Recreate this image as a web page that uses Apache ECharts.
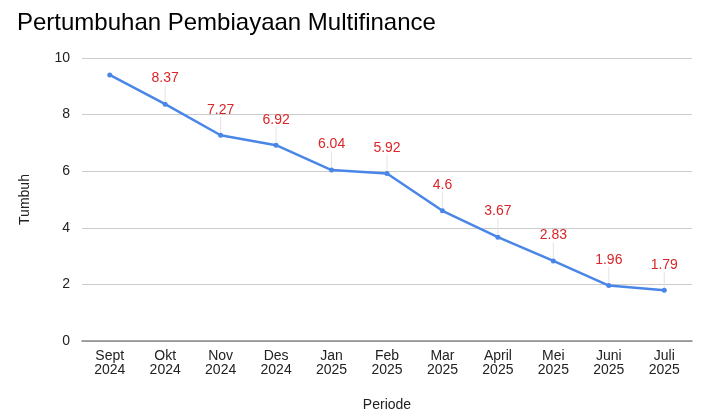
<!DOCTYPE html>
<html><head><meta charset="utf-8">
<script src="https://cdn.jsdelivr.net/npm/echarts@6/dist/echarts.min.js"></script>
<style>html,body{margin:0;padding:0;background:#fff}#c{width:703px;height:420px}</style>
</head><body><div id="c"></div>
<script>
var categories = ['Sept\n2024','Okt\n2024','Nov\n2024','Des\n2024','Jan\n2025','Feb\n2025','Mar\n2025','April\n2025','Mei\n2025','Juni\n2025','Juli\n2025'];
var values = [9.4, 8.37, 7.27, 6.92, 6.04, 5.92, 4.6, 3.67, 2.83, 1.96, 1.79];
var showLabel = [false, true, true, true, true, true, true, true, true, true, true];
var yTicks = [0, 2, 4, 6, 8, 10];

var chart = echarts.init(document.getElementById('c'));
chart.setOption({
  animation: false,
  title: { text: 'Pertumbuhan Pembiayaan Multifinance', left: 12, top: 6,
    textStyle: { fontFamily: 'Liberation Sans', fontSize: 24, fontWeight: 'normal', color: '#000' } },
  grid: { left: 82, right: 11, top: 58, bottom: 79, containLabel: false, outerBoundsMode: 'none' },
  xAxis: {
    type: 'category', data: categories, boundaryGap: true,
    name: 'Periode', nameLocation: 'middle', nameGap: 57,
    nameTextStyle: { fontFamily: 'Liberation Sans', fontSize: 14, color: '#222' },
    axisLine: { lineStyle: { color: '#888', width: 1.5 } },
    axisTick: { show: false },
    axisLabel: { fontFamily: 'Liberation Sans', fontSize: 14, color: '#222', lineHeight: 14, margin: 8, interval: 0 }
  },
  yAxis: {
    type: 'value', min: yTicks[0], max: yTicks[yTicks.length-1], interval: 2,
    name: 'Tumbuh', nameLocation: 'middle', nameGap: 50, nameRotate: 90,
    nameTextStyle: { fontFamily: 'Liberation Sans', fontSize: 14, color: '#222' },
    axisLine: { show: false }, axisTick: { show: false },
    axisLabel: { fontFamily: 'Liberation Sans', fontSize: 14, color: '#222', margin: 12 },
    splitLine: { lineStyle: { color: '#cccccc' } }
  },
  series: [{
    type: 'line',
    data: values.map(function (v, i) {
      return { value: v, label: { show: showLabel[i] }, labelLine: { show: showLabel[i] } };
    }),
    symbol: 'circle', symbolSize: 5,
    lineStyle: { color: '#4a86e8', width: 2.5 },
    itemStyle: { color: '#4a86e8' },
    label: { show: true, position: 'top', distance: 4, fontFamily: 'Liberation Sans', fontSize: 14, color: '#d8262a' },
    labelLayout: { dy: -12 },
    labelLine: { show: true, lineStyle: { color: '#e4e4e4', width: 1 } }
  }]
});
</script></body></html>
